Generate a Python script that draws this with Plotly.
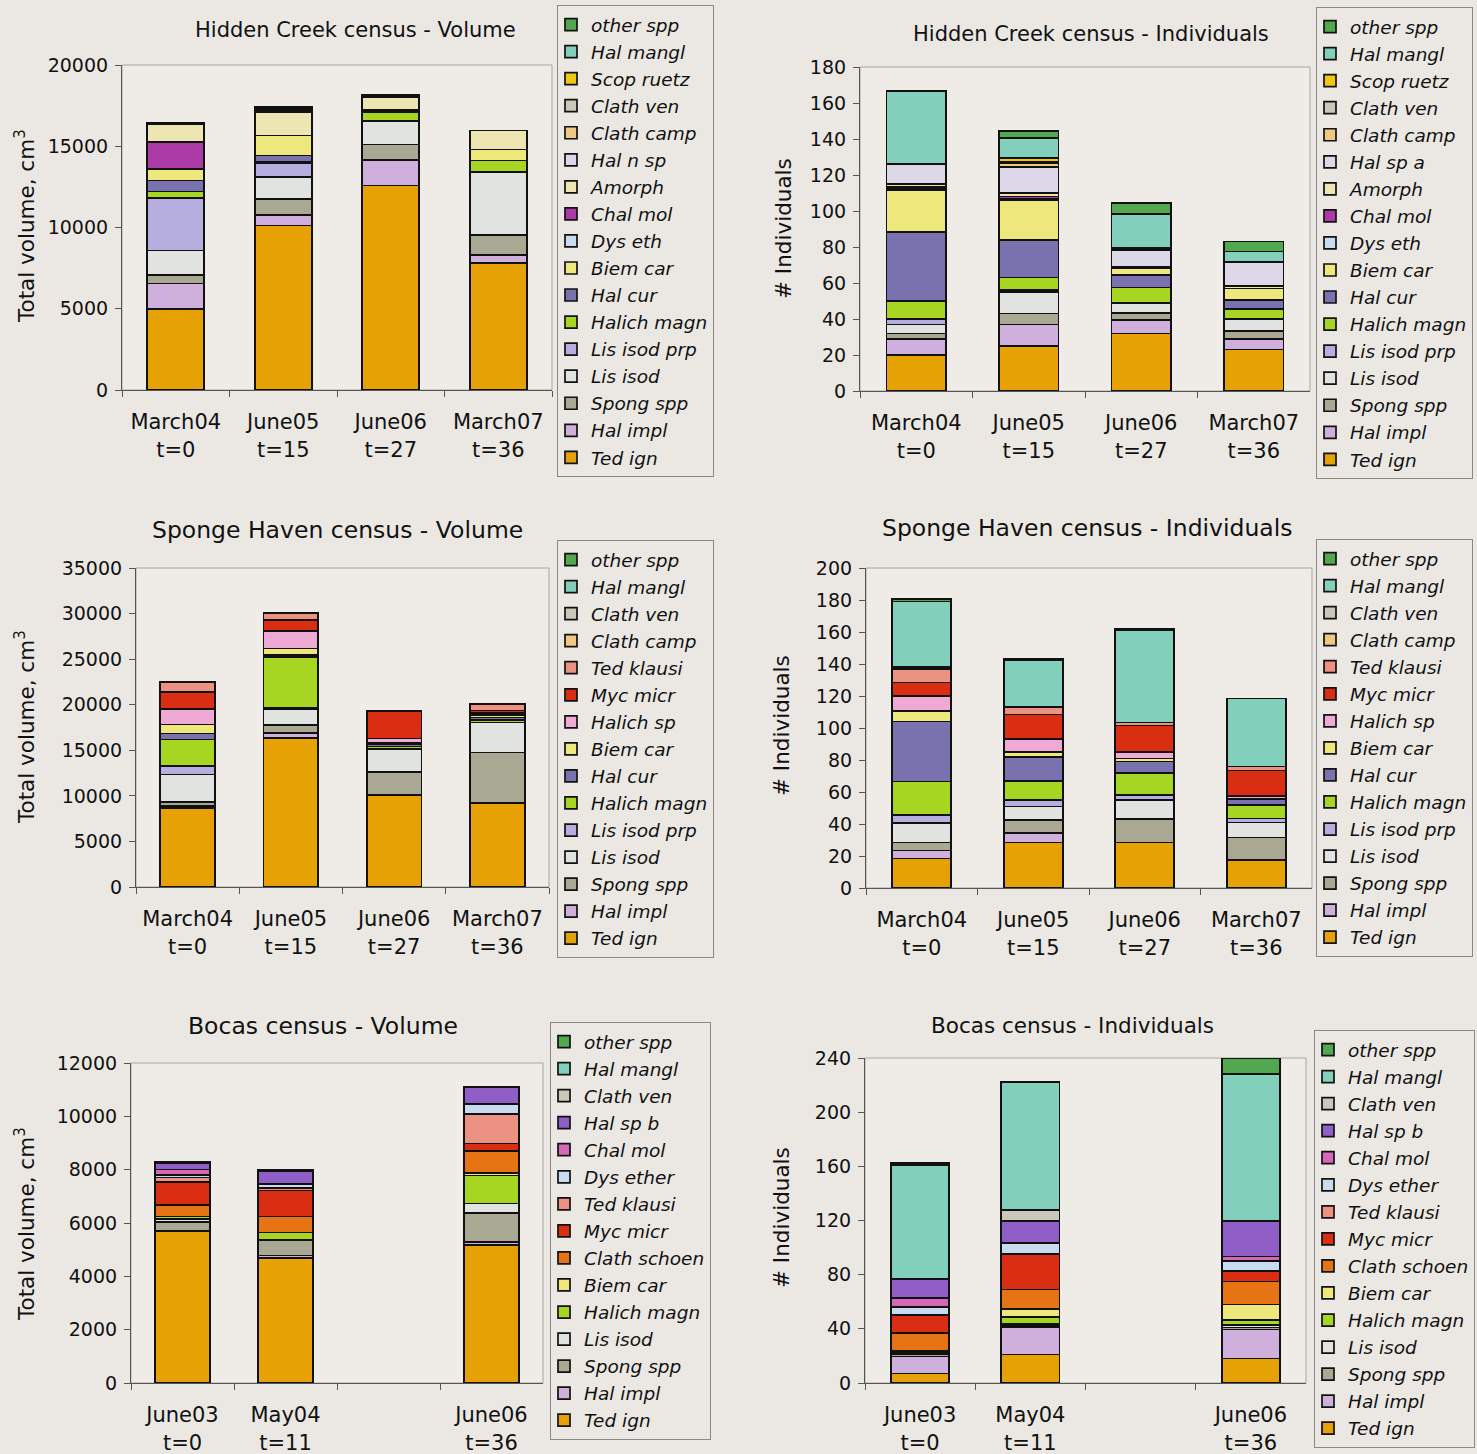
import plotly.graph_objects as go

W, H = 1477, 1454

# ---------------- categories ----------------
HC_CATS = ["March04<br>t=0", "June05<br>t=15", "June06<br>t=27", "March07<br>t=36"]
SH_CATS = ["March04<br>t=0", "June05<br>t=15", "June06<br>t=27", "March07<br>t=36"]
BO_CATS = ["June03<br>t=0", "May04<br>t=11", " ", "June06<br>t=36"]

# ---------------- data (stack order: bottom -> top) ----------------
HC_VOLUME = {
    "Ted ign":      [5000, 10130, 12590, 7820],
    "Hal impl":     [1550, 660, 1580, 470],
    "Spong spp":    [510, 980, 940, 1270],
    "Lis isod":     [1530, 1330, 1430, 3840],
    "Lis isod prp": [3240, 860, 0, 0],
    "Halich magn":  [390, 100, 550, 720],
    "Hal cur":      [680, 370, 150, 0],
    "Biem car":     [680, 1230, 0, 680],
    "Dys eth":      [0, 0, 0, 0],
    "Chal mol":     [1680, 0, 0, 0],
    "Amorph":       [1130, 1430, 770, 1170],
    "Hal n sp":     [80, 150, 80, 0],
    "Clath camp":   [0, 100, 0, 0],
    "Clath ven":    [0, 100, 85, 0],
    "Scop ruetz":   [0, 0, 0, 0],
    "Hal mangl":    [0, 0, 0, 0],
    "other spp":    [0, 0, 0, 0],
}

HC_INDIVIDUALS = {
    "Ted ign":      [20, 25, 32, 23],
    "Hal impl":     [9, 12, 7.5, 6],
    "Spong spp":    [3, 6, 4, 4.5],
    "Lis isod":     [5, 12, 5.5, 6.5],
    "Lis isod prp": [3, 1, 0, 0],
    "Halich magn":  [10, 7, 8.5, 5.5],
    "Hal cur":      [38.5, 21, 7, 5],
    "Biem car":     [23, 22, 3.5, 6.5],
    "Dys eth":      [1, 1, 0, 0],
    "Chal mol":     [1, 1, 0, 0],
    "Amorph":       [1.5, 2, 1, 1.5],
    "Hal sp a":     [11, 14.5, 9.5, 13],
    "Clath camp":   [0, 2, 0, 0],
    "Clath ven":    [0, 1, 1, 0],
    "Scop ruetz":   [0, 2, 0, 0],
    "Hal mangl":    [40.5, 11, 19, 6],
    "other spp":    [0, 4, 6, 5.5],
}

SH_VOLUME = {
    "Ted ign":      [8630, 16380, 10090, 9250],
    "Hal impl":     [250, 550, 0, 0],
    "Spong spp":    [480, 850, 2520, 5520],
    "Lis isod":     [3000, 1720, 2560, 3290],
    "Lis isod prp": [900, 150, 0, 0],
    "Halich magn":  [2920, 5620, 250, 300],
    "Hal cur":      [660, 200, 200, 250],
    "Biem car":     [990, 700, 180, 250],
    "Halich sp":    [1680, 1930, 500, 250],
    "Myc micr":     [1900, 1170, 2950, 250],
    "Ted klausi":   [1060, 800, 100, 700],
    "Clath camp":   [0, 0, 0, 0],
    "Clath ven":    [0, 0, 0, 0],
    "Hal mangl":    [0, 0, 0, 0],
    "other spp":    [0, 0, 0, 0],
}

SH_INDIVIDUALS = {
    "Ted ign":      [18.5, 28.5, 28.5, 17.5],
    "Hal impl":     [5, 6, 0, 0],
    "Spong spp":    [5, 8, 14.5, 14],
    "Lis isod":     [12, 8.5, 12, 9.5],
    "Lis isod prp": [5, 4, 3, 2.5],
    "Halich magn":  [21, 12, 14, 8.5],
    "Hal cur":      [37.5, 15, 7, 3.5],
    "Biem car":     [6.5, 3, 2, 0],
    "Halich sp":    [9.5, 8, 4, 2],
    "Myc micr":     [8.5, 15.5, 16.5, 16],
    "Ted klausi":   [8, 4.5, 2, 2.5],
    "Clath camp":   [1, 0, 0, 0],
    "Clath ven":    [1, 0, 0, 0],
    "Hal mangl":    [40.5, 29.5, 57.5, 42.5],
    "other spp":    [1.5, 1, 1, 0],
}

BO_VOLUME = {
    "Ted ign":      [5700, 4680, None, 5180],
    "Hal impl":     [0, 100, None, 100],
    "Spong spp":    [340, 590, None, 1100],
    "Lis isod":     [100, 0, None, 350],
    "Halich magn":  [100, 270, None, 1050],
    "Biem car":     [0, 0, None, 100],
    "Clath schoen": [440, 600, None, 830],
    "Myc micr":     [870, 980, None, 270],
    "Ted klausi":   [160, 80, None, 1100],
    "Dys ether":    [100, 150, None, 380],
    "Chal mol":     [200, 0, None, 0],
    "Hal sp b":     [230, 500, None, 650],
    "Clath ven":    [50, 50, None, 0],
    "Hal mangl":    [0, 0, None, 0],
    "other spp":    [0, 0, None, 0],
}

BO_INDIVIDUALS = {
    "Ted ign":      [7, 21, None, 18],
    "Hal impl":     [12.5, 20.5, None, 21.5],
    "Spong spp":    [2, 1, None, 1.5],
    "Lis isod":     [1, 1, None, 2],
    "Halich magn":  [1, 5, None, 3.5],
    "Biem car":     [0, 6, None, 11.5],
    "Clath schoen": [13.5, 14.5, None, 17],
    "Myc micr":     [13, 26.5, None, 7.5],
    "Ted klausi":   [0, 0, None, 0],
    "Dys ether":    [6, 8, None, 7.5],
    "Chal mol":     [7, 0, None, 3.5],
    "Hal sp b":     [14, 16, None, 26],
    "Clath ven":    [0, 8.5, None, 0],
    "Hal mangl":    [84, 94.5, None, 108.5],
    "other spp":    [1.5, 0, None, 12],
}

# ---------------- colours ----------------
COLORS = {
    "other spp": "#52a84e", "Hal mangl": "#82cfbc", "Scop ruetz": "#f0c814",
    "Clath ven": "#cac8ba", "Clath camp": "#efc884", "Hal n sp": "#ddd8e8",
    "Hal sp a": "#ddd8e8", "Amorph": "#eee6b2", "Chal mol": "#ac3aa6",
    "Dys eth": "#c8dcf0", "Dys ether": "#c8dcf0", "Biem car": "#eee87c",
    "Hal cur": "#7a72ae", "Halich magn": "#a6d622", "Lis isod prp": "#b6aede",
    "Lis isod": "#e0e3df", "Spong spp": "#a9a893", "Hal impl": "#cfb0dc",
    "Ted ign": "#e6a204", "Ted klausi": "#ec9282", "Myc micr": "#d92e12",
    "Halich sp": "#eeaad4", "Hal sp b": "#8f5ec6", "Clath schoen": "#e77414",
}
BOCAS_COLORS = {"Chal mol": "#d468b6"}

PAPER_BG = "#ebe8e3"
PLOT_BG = "#efece8"
FONT = "DejaVu Sans"

# panels: data, cats, plot box px (x0, x1, y_top, y_bottom), y range, dtick,
# title, title size, title centre, y title, y title centre, legend top-left px
PANELS = [
    dict(data=HC_VOLUME, cats=HC_CATS, box=(122, 552, 65, 390), yr=20000, dt=5000,
         title="Hidden Creek census - Volume", ts=21, tc=(355, 30),
         yt="Total volume, cm<sup>3</sup>", ytc=(25, 226), leg=(557, 5), cmap={}),
    dict(data=HC_INDIVIDUALS, cats=HC_CATS, box=(860, 1310, 67, 391), yr=180, dt=20,
         title="Hidden Creek census - Individuals", ts=21, tc=(1091, 34),
         yt="# Individuals", ytc=(783, 229), leg=(1316, 7), cmap={}),
    dict(data=SH_VOLUME, cats=SH_CATS, box=(136, 549, 568, 887), yr=35000, dt=5000,
         title="Sponge Haven census - Volume", ts=23.5, tc=(337, 530),
         yt="Total volume, cm<sup>3</sup>", ytc=(25, 727), leg=(557, 540), cmap={}),
    dict(data=SH_INDIVIDUALS, cats=SH_CATS, box=(866, 1312, 568, 888), yr=200, dt=20,
         title="Sponge Haven census - Individuals", ts=23.5, tc=(1087, 528),
         yt="# Individuals", ytc=(781, 726), leg=(1316, 539), cmap={}),
    dict(data=BO_VOLUME, cats=BO_CATS, box=(131, 543, 1063, 1383), yr=12000, dt=2000,
         title="Bocas census - Volume", ts=23.5, tc=(323, 1026),
         yt="Total volume, cm<sup>3</sup>", ytc=(25, 1224), leg=(550, 1022), cmap=BOCAS_COLORS),
    dict(data=BO_INDIVIDUALS, cats=BO_CATS, box=(865, 1306, 1058, 1383), yr=240, dt=40,
         title="Bocas census - Individuals", ts=21.5, tc=(1072, 1025),
         yt="# Individuals", ytc=(781, 1218), leg=(1314, 1030), cmap=BOCAS_COLORS),
]

fig = go.Figure()
layout = {}
annotations = []
shapes = []

for i, p in enumerate(PANELS, start=1):
    sfx = "" if i == 1 else str(i)
    xa, ya = "x" + sfx, "y" + sfx
    leg = "legend" + sfx
    x0, x1, yt, yb = p["box"]
    for name, vals in p["data"].items():
        color = p["cmap"].get(name, COLORS[name])
        fig.add_trace(go.Bar(
            x=p["cats"], y=[v if v else None for v in vals], name=name,
            marker=dict(color=color, line=dict(color="#111111", width=1.7)),
            xaxis=xa, yaxis=ya, legend=leg,
        ))
    layout["xaxis" + sfx] = dict(
        domain=[x0 / W, x1 / W], anchor=ya, type="category",
        categoryorder="array", categoryarray=p["cats"],
        showline=True, linecolor="#555555", linewidth=1.2,
        ticks="outside", tickson="boundaries", ticklen=6, tickcolor="#555555",
        ticklabelstandoff=13,
        tickfont=dict(family=FONT, size=21, color="#111111"),
        showgrid=False, zeroline=False, fixedrange=True,
    )
    layout["yaxis" + sfx] = dict(
        domain=[1 - yb / H, 1 - yt / H], anchor=xa,
        range=[0, p["yr"]], dtick=p["dt"], tick0=0, tickformat="d",
        showline=True, linecolor="#555555", linewidth=1.2,
        ticks="outside", ticklen=6, tickcolor="#555555", ticklabelstandoff=3,
        tickfont=dict(family=FONT, size=19, color="#111111"),
        showgrid=False, zeroline=False, fixedrange=True,
    )
    shapes.append(dict(type="rect", xref=xa + " domain", yref=ya + " domain",
                       x0=0, x1=1, y0=0, y1=1, layer="below",
                       line=dict(color="#a8a6a2", width=1)))
    annotations.append(dict(text=p["title"], x=p["tc"][0] / W, y=1 - p["tc"][1] / H,
                            xref="paper", yref="paper", showarrow=False,
                            xanchor="center", yanchor="middle",
                            font=dict(family=FONT, size=p["ts"], color="#111111")))
    annotations.append(dict(text=p["yt"], x=p["ytc"][0] / W, y=1 - p["ytc"][1] / H,
                            xref="paper", yref="paper", showarrow=False, textangle=-90,
                            xanchor="center", yanchor="middle",
                            font=dict(family=FONT, size=21.5, color="#111111")))
    layout[leg] = dict(
        x=p["leg"][0] / W, y=1 - p["leg"][1] / H, xanchor="left", yanchor="top",
        xref="paper", yref="paper", traceorder="reversed",
        bgcolor=PAPER_BG, bordercolor="#8a8886", borderwidth=1,
        font=dict(family=FONT, size=18.5, color="#111111", style="italic"),
        tracegroupgap=0, indentation=-7,
    )

fig.update_layout(
    width=W, height=H, margin=dict(l=0, r=0, t=0, b=0, pad=0, autoexpand=False),
    paper_bgcolor=PAPER_BG, plot_bgcolor=PLOT_BG,
    barmode="stack", bargap=0.47, showlegend=True,
    annotations=annotations, shapes=shapes, **layout,
)

fig.write_html(
    "out.html",
    config={"displayModeBar": False},
    post_script="document.body.style.margin='0';document.body.style.background='%s';" % PAPER_BG,
)
